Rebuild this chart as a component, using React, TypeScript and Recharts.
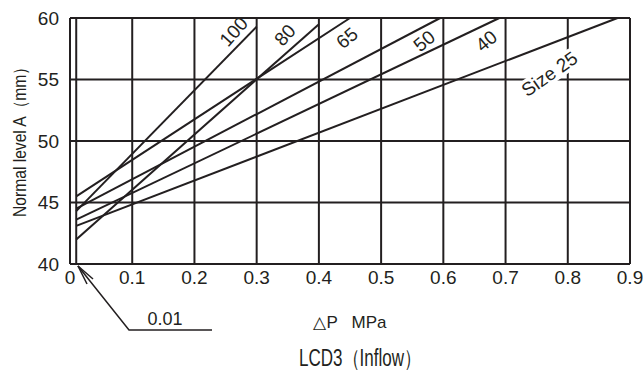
import { LineChart, Line, XAxis, YAxis, CartesianGrid, ReferenceLine } from 'recharts';

// ΔP (MPa) vs normal level A (mm), one straight line per size
const pressureTicks = [0, 0.1, 0.2, 0.3, 0.4, 0.5, 0.6, 0.7, 0.8, 0.9];
const levelTicks = [40, 45, 50, 55, 60];
const sizeNames = ['100', '80', '65', '50', '40', 'Size 25'];
const startPressure = [0.01, 0.01, 0.01, 0.01, 0.01, 0.01];
const startLevel = [44.3, 42.0, 45.5, 44.5, 43.6, 43.1];
const endPressure = [0.3, 0.4, 0.45, 0.595, 0.69, 0.88];
const endLevel = [59.3, 59.5, 60, 60, 60, 60];
const markedPressure = 0.01;

const INK = '#231f20';
const FONT = '"Liberation Sans", Arial, sans-serif';

// where each size label sits, relative to the end of its line
const labelPlace = [
  { dx: -23, dy: 5, angle: -48, box: false },
  { dx: -34, dy: 11, angle: -48, box: false },
  { dx: -3, dy: 20, angle: -40, box: false },
  { dx: -16, dy: 23, angle: -40, box: false },
  { dx: -13, dy: 23, angle: -40, box: false },
  { dx: -68, dy: 56, angle: -35, box: true },
];

const series = sizeNames.map((name, i) => ({
  name,
  data: [
    { p: startPressure[i], level: startLevel[i] },
    { p: endPressure[i], level: endLevel[i] },
  ],
}));

function sizeLabel(i: number) {
  return (props: any) => {
    const { x, y, index } = props;
    if (index !== 1) return null;
    const pl = labelPlace[i];
    const cx = x + pl.dx;
    const cy = y + pl.dy;
    return (
      <g transform={`rotate(${pl.angle}, ${cx}, ${cy})`}>
        {pl.box && <rect x={cx - 30} y={cy - 10} width={60} height={20} fill="#fff" />}
        <text
          x={cx}
          y={cy}
          textAnchor="middle"
          dominantBaseline="central"
          fontSize={19}
          fontFamily={FONT}
          fill={INK}
        >
          {sizeNames[i]}
        </text>
      </g>
    );
  };
}

export default function App() {
  return (
    <div style={{ position: 'absolute', left: 0, top: 0, width: 643, height: 381, background: '#fff' }}>
      <LineChart width={643} height={300} margin={{ top: 18, right: 13, left: 0, bottom: 0 }}>
        <CartesianGrid stroke={INK} strokeWidth={2} />
        <XAxis
          dataKey="p"
          type="number"
          domain={[0, 0.9]}
          ticks={pressureTicks}
          allowDuplicatedCategory={false}
          height={36}
          tickSize={0}
          tickMargin={7}
          axisLine={{ stroke: INK, strokeWidth: 2 }}
          tick={{ fill: INK, fontSize: 19, fontFamily: FONT }}
        />
        <YAxis
          type="number"
          domain={[40, 60]}
          ticks={levelTicks}
          width={70}
          tickSize={0}
          tickMargin={11}
          axisLine={{ stroke: INK, strokeWidth: 2 }}
          tick={{ fill: INK, fontSize: 19, fontFamily: FONT }}
        />
        <ReferenceLine x={markedPressure} stroke={INK} strokeWidth={2} />
        {series.map((s, i) => (
          <Line
            key={s.name}
            data={s.data}
            dataKey="level"
            name={s.name}
            type="linear"
            stroke={INK}
            strokeWidth={2}
            dot={false}
            isAnimationActive={false}
            label={sizeLabel(i)}
          />
        ))}
      </LineChart>

      <svg
        width={643}
        height={381}
        style={{ position: 'absolute', left: 0, top: 0, pointerEvents: 'none' }}
        fontFamily={FONT}
        fill={INK}
      >
        <text
          x={20}
          y={138}
          fontSize={18}
          textAnchor="middle"
          dominantBaseline="central"
          textLength={158}
          lengthAdjust="spacingAndGlyphs"
          transform="rotate(-90, 20, 138)"
        >
          Normal level A（mm）
        </text>
        {/* callout pointing at 0.01 */}
        <g stroke={INK} strokeWidth={1.5} fill="none">
          <polyline points="212,330 129,330 78,266" />
          <line x1={78} y1={266} x2={93} y2={279} />
          <line x1={78} y1={266} x2={87} y2={284} />
        </g>
        <text x={165} y={319} fontSize={18} textAnchor="middle" dominantBaseline="central">0.01</text>
        <text x={350} y={322} fontSize={17} textAnchor="middle" dominantBaseline="central" xmlSpace="preserve">△P   MPa</text>
        <text
          x={360}
          y={358}
          fontSize={23}
          textAnchor="middle"
          dominantBaseline="central"
          textLength={122}
          lengthAdjust="spacingAndGlyphs"
        >
          LCD3（Inflow）
        </text>
      </svg>
    </div>
  );
}
